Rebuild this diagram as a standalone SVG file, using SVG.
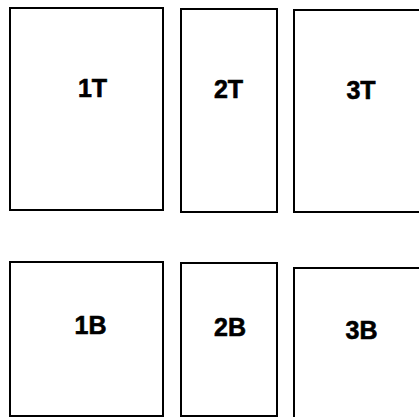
<svg xmlns="http://www.w3.org/2000/svg" width="419" height="417" viewBox="0 0 419 417">
<style>
rect.box{fill:#fff;stroke:#000;stroke-width:2}
text.lbl{font-family:"Liberation Sans",Arial,sans-serif;font-weight:bold;font-size:25px;text-anchor:middle;fill:#000;stroke:#000;stroke-width:0.6}
</style>
<rect width="419" height="417" fill="#fff"/>
<g id="node-1T"><rect class="box" x="10" y="8" width="153" height="202"/><text class="lbl" x="92.5" y="97">1T</text></g>
<g id="node-2T"><rect class="box" x="181" y="9" width="96" height="203"/><text class="lbl" x="228.5" y="97.5">2T</text></g>
<g id="node-3T"><rect class="box" x="294" y="10" width="130" height="202"/><text class="lbl" x="361" y="98.5">3T</text></g>
<g id="node-1B"><rect class="box" x="10" y="262" width="153" height="154"/><text class="lbl" x="90.5" y="333.5">1B</text></g>
<g id="node-2B"><rect class="box" x="181" y="263" width="96" height="153"/><text class="lbl" x="230" y="335.5">2B</text></g>
<g id="node-3B"><rect class="box" x="294" y="268" width="130" height="160"/><text class="lbl" x="361.5" y="338.5">3B</text></g>
<g id="connectors"/>
</svg>
